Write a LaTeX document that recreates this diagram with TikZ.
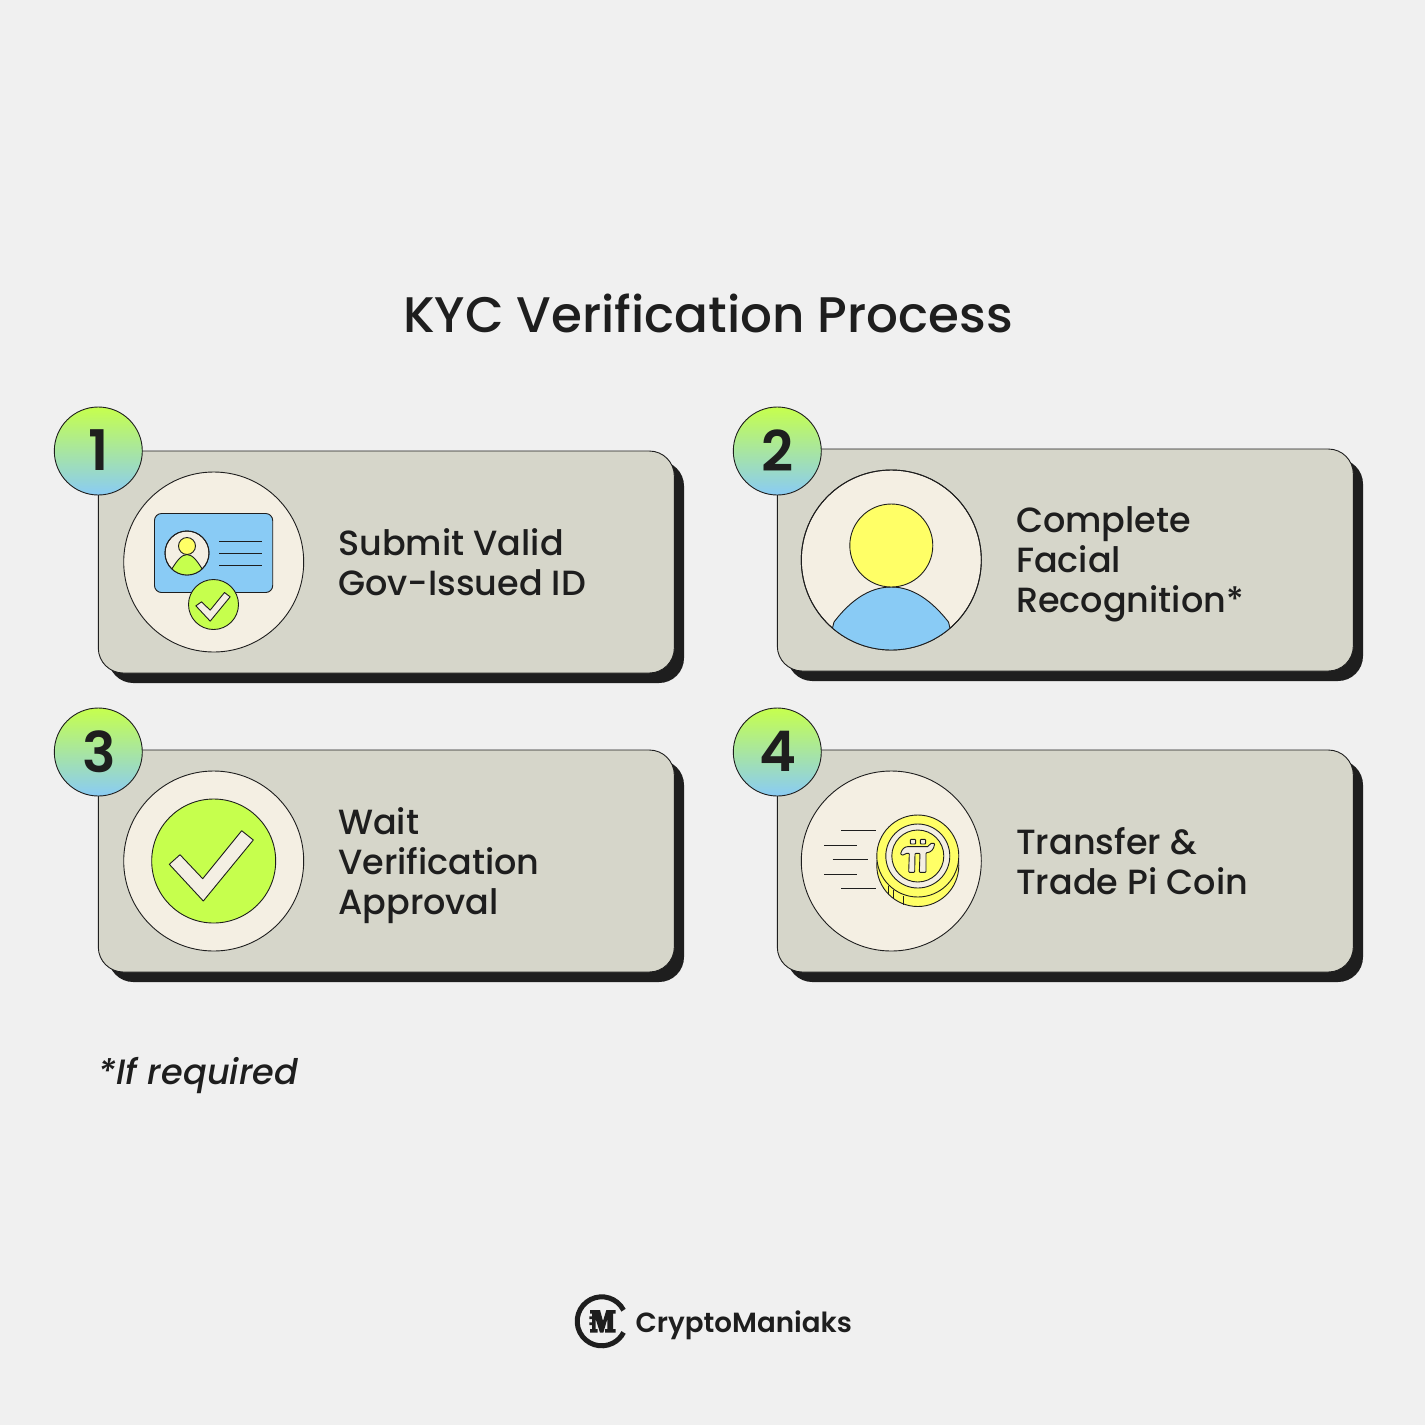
\documentclass[tikz,border=0pt]{standalone}
\usepackage{fontspec}
\setmainfont{Poppins}
\newfontfamily\popmed{Poppins Medium}
\newfontfamily\popmedit{Poppins Medium Italic}
\newfontfamily\popsemi{Poppins SemiBold}
\definecolor{bgc}{HTML}{F0F0F0}
\definecolor{cardc}{HTML}{D6D6CA}
\definecolor{creamc}{HTML}{F4EFE3}
\definecolor{darkc}{HTML}{1E1E1E}
\definecolor{bluec}{HTML}{89CBF5}
\definecolor{greenc}{HTML}{C6FF4D}
\definecolor{yellowc}{HTML}{FFFF66}
\tikzset{
  ln/.style={draw=darkc,line width=0.9pt},
  cardbox/.style={ln,fill=cardc,rounded corners=25pt},
  shadowbox/.style={fill=darkc,rounded corners=25pt},
  numdisc/.style={circle,ln,minimum size=88pt,inner sep=0pt,top color=greenc,bottom color=bluec,text=darkc,font=\popsemi\fontsize{56}{56}\selectfont},
  icondisc/.style={circle,ln,fill=creamc,minimum size=180pt,inner sep=0pt},
  steplabel/.style={anchor=west,align=left,text=darkc,inner sep=0pt,font=\popmed\fontsize{35}{40}\selectfont},
  checkmk/.style={ln,fill=creamc,line join=round},
}
\newcommand{\stepcard}[5]{% name, x, y, number, id
  \fill[shadowbox] (#2+10,#3+10) rectangle (#2+585.7,#3+232);
  \draw[cardbox] (#2,#3) rectangle (#2+576,#3+222);
  \node[numdisc] (num#1) at (#2,#4) {\raisebox{1pt}{\kern1pt #5}};
}
\begin{document}
\begin{tikzpicture}[x=1pt,y=-1pt]
\useasboundingbox (0,0) rectangle (1425,1425);
\fill[bgc] (0,0) rectangle (1425,1425);
\node[anchor=base,text=darkc,inner sep=0pt,font=\popmed\fontsize{50}{50}\selectfont] (title) at (708,332) {KYC Verification Process};

\stepcard{1}{98.3}{451}{451}{1}
\stepcard{2}{777.3}{449}{451}{2}
\stepcard{3}{98.3}{750}{752}{3}
\stepcard{4}{777.3}{750}{752}{4}

% icon 1
\node[icondisc] (ic1) at (213.7,562) {};
\draw[ln,fill=bluec,rounded corners=7pt] (154.5,513.5) rectangle (272.7,592.5);
\node[circle,ln,fill=creamc,minimum size=44pt,inner sep=0pt] (av1) at (187,553) {};
\begin{scope}
\clip (187,553) circle (22pt);
\draw[ln,fill=greenc] (170,572) .. controls (176,562) and (181,554.5) .. (187,554.5) .. controls (193,554.5) and (198,562) .. (204,572) -- (204,580) -- (170,580) -- cycle;
\end{scope}
\draw[ln] (187,553) circle (22pt);
\draw[ln,fill=yellowc] (187,546) circle (8.5pt);
\foreach \yy in {541,553,565} \draw[ln] (219,\yy) -- (262,\yy);
\node[circle,ln,fill=greenc,minimum size=50pt,inner sep=0pt] (ok1) at (213.5,604.5) {};
\begin{scope}[shift={(213.5,604.5)},scale=0.333]
\draw[checkmk] (-53,4) -- (-36,-8) -- (-10,17) -- (33,-36) -- (50,-23) -- (-10,50) -- cycle;
\end{scope}
\node[steplabel] (t1) at (338,562.5) {Submit Valid\\Gov-Issued ID};

% icon 2
\node[icondisc] (ic2) at (891.3,560) {};
\begin{scope}
\clip (891.3,560) circle (90pt);
\draw[ln,fill=bluec] (834,622) .. controls (850,601) and (869,587) .. (891.3,587) .. controls (913,587) and (932,601) .. (948.5,622) -- (960,670) -- (822,670) -- cycle;
\end{scope}
\draw[ln] (891.3,560) circle (90pt);
\draw[ln,fill=yellowc] (891.3,545.5) circle (41.5pt);
\node[steplabel] (t2) at (1016,564) {Complete\\Facial\\Recognition*};

% icon 3
\node[icondisc] (ic3) at (213.7,861) {};
\node[circle,ln,fill=greenc,minimum size=124pt,inner sep=0pt] (ok3) at (213.7,861) {};
\draw[checkmk] (169.3,864.3) -- (180,854.7) -- (202.7,878.7) -- (241.7,830.7) -- (253.3,840) -- (203.3,901) -- cycle;
\node[steplabel] (t3) at (338,866) {Wait\\Verification\\Approval};

% icon 4
\node[icondisc] (ic4) at (891.3,861) {};
\foreach \xa/\xb/\yy in {841/876/830.7,824/857/845,832.5/867.5/859.5,824/857/874,841/876/888} \draw[ln] (\xa,\yy) -- (\xb,\yy);
\draw[ln,fill=yellowc] (917.8,865.5) circle (41pt);
\draw[ln] (888.7,886) -- (888.7,894);
\draw[ln] (893,890) -- (893,898);
\draw[ln] (903,896) -- (903,905);
\draw[ln,fill=yellowc] (917.8,856) circle (41pt);
\draw[ln,fill=creamc] (917.8,856) circle (32pt);
\draw[ln,fill=yellowc] (917.8,856) circle (26pt);
\begin{scope}[shift={(870,810)},scale=0.3333]
\draw[checkmk,rounded corners=0.8pt] (121,88) rectangle (137,102);
\draw[checkmk,rounded corners=0.8pt] (151,88) rectangle (167,102);
\draw[checkmk,rounded corners=0.8pt] (92,132) .. controls (95,118) and (104,110) .. (115,110) -- (170,110) .. controls (178,110) and (178,100) .. (186,100) -- (194,100) .. controls (192,118) and (182,128) .. (168,128) -- (168,187) -- (148,187) -- (150,130) -- (135,130) -- (134,187) -- (116,187) -- (118,130) -- (108,130) .. controls (102,136) and (96,136) .. (92,132) -- cycle;
\end{scope}
\node[steplabel] (t4) at (1016,861.3) {Transfer \&\\Trade Pi Coin};

\node[anchor=base west,text=darkc,inner sep=0pt,font=\popmedit\fontsize{35.2}{36}\selectfont] (foot) at (98.5,1084) {*If required};

% logo
\draw[darkc,line width=5pt] (601.7,1321.3) ++(-27:24.5) arc[start angle=27,end angle=333,radius=24.5pt];
\begin{scope}[shift={(580,1295)},scale=0.3333]
\fill[darkc] (30,45) -- (60,45) -- (69,78) -- (79,45) -- (107,45) -- (107,56) -- (99,56) -- (99,102) -- (107,102) -- (107,113) -- (75,113) -- (75,102) -- (82,102) -- (82,72) -- (70,113) -- (60,113) -- (47,72) -- (47,102) -- (53,102) -- (53,113) -- (30,113) -- (30,102) -- (36,102) -- (36,90) -- (28,90) -- (28,82) -- (36,82) -- (36,72) -- (28,72) -- (28,64) -- (36,64) -- (36,56) -- (30,56) -- cycle;
\end{scope}
\node[anchor=base west,text=darkc,inner sep=0pt,font=\popsemi\fontsize{27.7}{28}\selectfont] (logot) at (635.5,1332) {CryptoManiaks};
\end{tikzpicture}
\end{document}
